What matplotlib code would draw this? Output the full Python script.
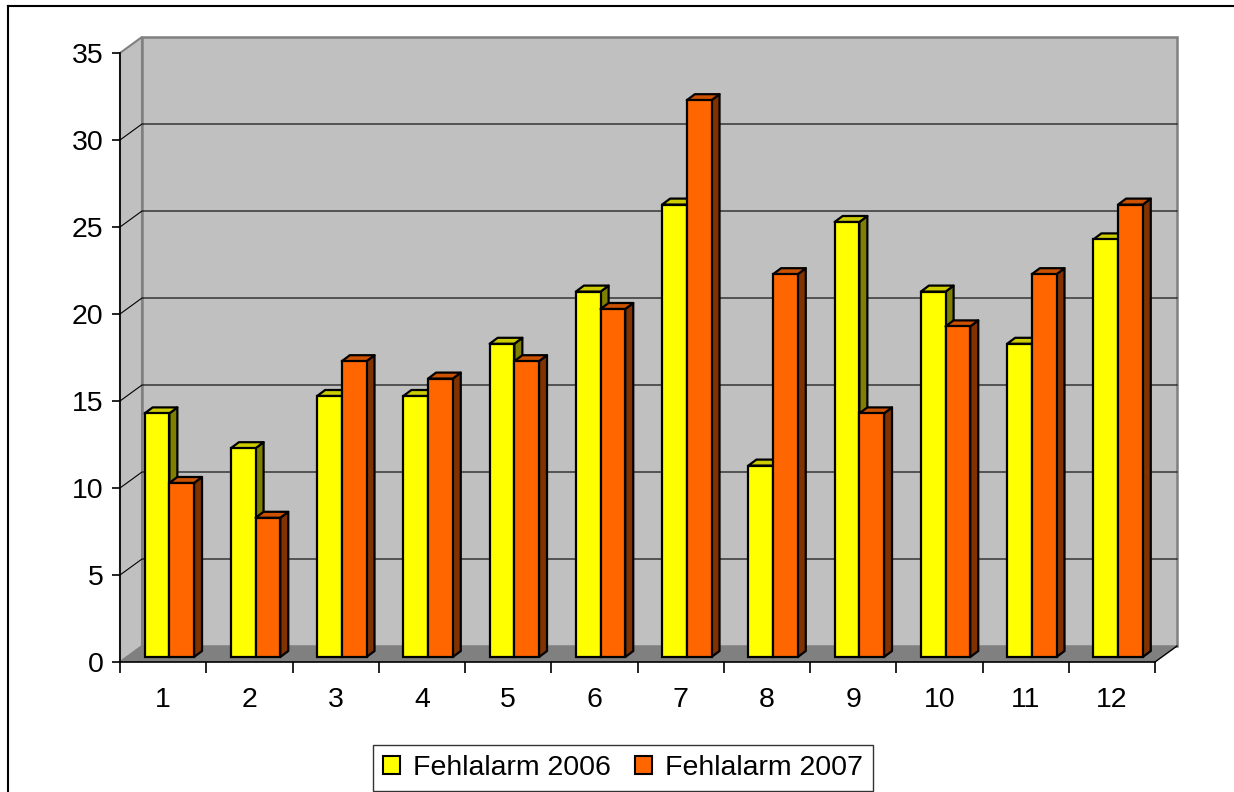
import matplotlib
matplotlib.use("Agg")
import matplotlib.pyplot as plt
from matplotlib.patches import Polygon, Patch
from matplotlib.lines import Line2D

plt.rcParams['font.family'] = ['Liberation Sans', 'DejaVu Sans']

months = [1, 2, 3, 4, 5, 6, 7, 8, 9, 10, 11, 12]
alarm_2006 = [14, 12, 15, 15, 18, 21, 26, 11, 25, 21, 18, 24]
alarm_2007 = [10, 8, 17, 16, 17, 20, 32, 22, 14, 19, 22, 26]
labels = ['Fehlalarm 2006', 'Fehlalarm 2007']
yticks = [0, 5, 10, 15, 20, 25, 30, 35]

W, H = 1234, 792
fig = plt.figure(figsize=(W / 100, H / 100), dpi=100)
ax = fig.add_axes([120 / W, 130 / H, 1035 / W, 609 / H])
ax.set_xlim(0.5, 12.5)
ax.set_ylim(0, 35)
ax.patch.set_visible(False)

# pixel -> data scale
sx = 1035 / 12.0
sy = 609 / 35.0
wdx, wdy = 22 / sx, 16 / sy        # wall depth
ddx, ddy = 8 / sx, 6 / sy          # bar depth
base = 5 / sy                      # bars sit a bit behind the front plane
bw = 24.7 / sx
x0, x1 = 0.5, 12.5
ymax = yticks[-1]

wall = '#c0c0c0'
edge = '#808080'
# floor
ax.add_patch(Polygon([(x0, 0), (x1, 0), (x1 + wdx, wdy), (x0 + wdx, wdy)],
                     closed=True, facecolor='#808080', edgecolor='none',
                     zorder=1, clip_on=False))
# left wall
ax.add_patch(Polygon([(x0, 0), (x0 + wdx, wdy), (x0 + wdx, ymax + wdy), (x0, ymax)],
                     closed=True, facecolor=wall, edgecolor=edge, lw=1.5,
                     zorder=1, clip_on=False))
# back wall
ax.add_patch(Polygon([(x0 + wdx, wdy), (x1 + wdx, wdy), (x1 + wdx, ymax + wdy), (x0 + wdx, ymax + wdy)],
                     closed=True, facecolor=wall, edgecolor=edge, lw=1.8,
                     zorder=1, clip_on=False))
# gridlines
for v in yticks[1:-1]:
    ax.plot([x0, x0 + wdx, x1 + wdx], [v, v + wdy, v + wdy], color='black',
            lw=0.8, zorder=2, clip_on=False)
# right edge of floor
ax.plot([x1, x1 + wdx], [0, wdy], color='black', lw=1.0, zorder=2, clip_on=False)


def bar3d(xc, v, front, top, side):
    l = xc - bw / 2
    r = xc + bw / 2
    b = base
    t = base + v
    ax.add_patch(Polygon([(r, b), (r + ddx, b + ddy), (r + ddx, t + ddy), (r, t)],
                         closed=True, facecolor=side, edgecolor='black', lw=1.6,
                         joinstyle='round', zorder=3, clip_on=False))
    ax.add_patch(Polygon([(l, t), (r, t), (r + ddx, t + ddy), (l + ddx, t + ddy)],
                         closed=True, facecolor=top, edgecolor='black', lw=1.6,
                         joinstyle='round', zorder=3, clip_on=False))
    ax.bar(xc, v, width=bw, bottom=b, color=front, edgecolor='black', lw=1.6,
           zorder=3, clip_on=False)


for i, m in enumerate(months):
    bar3d(m - 0.071, alarm_2006[i], '#ffff00', '#cccc00', '#808000')
    bar3d(m + 0.215, alarm_2007[i], '#ff6600', '#cc5200', '#803300')

for s in ['top', 'right']:
    ax.spines[s].set_visible(False)
for s in ['left', 'bottom']:
    ax.spines[s].set_linewidth(1.2)
    ax.spines[s].set_zorder(4)

ax.set_yticks(yticks)
ax.tick_params(axis='y', direction='out', length=6, width=1.2, pad=6, labelsize=20.5)
ax.set_xticks([m - 0.5 for m in months] + [12.5])
ax.set_xticklabels([])
ax.set_xticks(months, minor=True)
ax.set_xticklabels([str(m) for m in months], minor=True)
ax.tick_params(axis='x', which='major', direction='out', length=8, width=1.2)
ax.tick_params(axis='x', which='minor', length=0, pad=18, labelsize=20.5)

handles = [Patch(facecolor='#ffff00', edgecolor='black', lw=1.5),
           Patch(facecolor='#ff6600', edgecolor='black', lw=1.5)]
leg = fig.legend(handles, labels, loc='lower center', bbox_to_anchor=(0.505, 0.0),
                 ncol=2, fontsize=20.5, frameon=True, fancybox=False,
                 handlelength=0.6, handleheight=0.6, handletextpad=0.45,
                 columnspacing=0.85, borderpad=0.35, borderaxespad=0.05)
leg.get_frame().set_edgecolor('black')
leg.get_frame().set_linewidth(1.0)

# outer chart frame (top and left visible)
fig.add_artist(Line2D([8 / W, 1], [1 - 6 / H, 1 - 6 / H], color='black', lw=1.5))
fig.add_artist(Line2D([8 / W, 8 / W], [0, 1 - 6 / H], color='black', lw=1.5))

fig.savefig('out.png', dpi=100)
